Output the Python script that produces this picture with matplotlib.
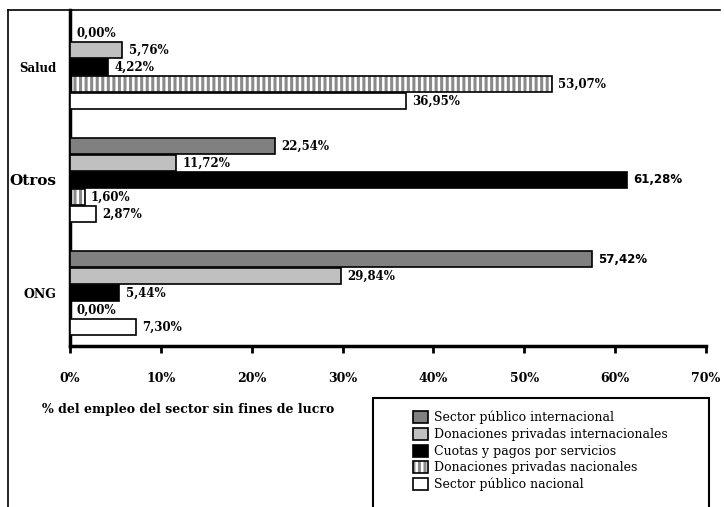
"""
plot.py - fuentes de ingreso por subsector (barras horizontales agrupadas)
"""

import matplotlib
matplotlib.use('Agg')
import matplotlib.pyplot as plt
from matplotlib.patches import Patch, Rectangle
from matplotlib.lines import Line2D
import numpy as np

# categories bottom -> top as drawn on the y axis
categories = ['ONG', 'Otros', 'Salud']
series_names = [
    'Sector público internacional',
    'Donaciones privadas internacionales',
    'Cuotas y pagos por servicios',
    'Donaciones privadas nacionales',
    'Sector público nacional',
]
# values per series, in the order of `categories`
sector_publico_int = [57.42, 22.54, 0.00]
donaciones_priv_int = [29.84, 11.72, 5.76]
cuotas_pagos = [5.44, 61.28, 4.22]
donaciones_priv_nac = [0.00, 1.60, 53.07]
sector_publico_nac = [7.30, 2.87, 36.95]
series_values = [sector_publico_int, donaciones_priv_int, cuotas_pagos,
                 donaciones_priv_nac, sector_publico_nac]
x_ticks = [0, 10, 20, 30, 40, 50, 60, 70]

SERIF = 'DejaVu Serif'
plt.rcParams['font.family'] = SERIF
plt.rcParams['hatch.linewidth'] = 2.2

fills = ['#808080', '#c0c0c0', '#000000', 'white', 'white']
hatches = [None, None, None, '|||', None]
# a couple of labels in the original were set in a sans face
sans_labels = {(0, 0), (2, 1)}  # (series, category)

fig = plt.figure(figsize=(7.24, 5.07), dpi=100)
ax = fig.add_axes([70 / 724, 1 - 346 / 507, 636 / 724, 336 / 507])

step = 0.15
height = 0.14
group_pos = np.arange(len(categories))

for i, (name, vals) in enumerate(zip(series_names, series_values)):
    ypos = group_pos + (2 - i) * step
    if hatches[i]:
        ax.barh(ypos, vals, height=height, color='white', edgecolor='#8a8a8a',
                hatch=hatches[i], linewidth=0, zorder=2)
        ax.barh(ypos, vals, height=height, color='none', edgecolor='black',
                linewidth=1.2, zorder=3)
    else:
        ax.barh(ypos, vals, height=height, color=fills[i], edgecolor='black',
                linewidth=1.2, zorder=3)
    for j, (y, v) in enumerate(zip(ypos, vals)):
        fam = 'DejaVu Sans' if (i, j) in sans_labels else SERIF
        ax.annotate(f'{v:.2f}'.replace('.', ',') + '%', xy=(v, y),
                    xytext=(4.5, 0), textcoords='offset points',
                    ha='left', va='center', fontsize=8.5, fontweight='bold',
                    family=fam)

ax.set_xlim(0, 70)
ax.set_ylim(-0.47, 2.505)
ax.set_xticks(x_ticks)
ax.set_xticklabels([f'{t}%' for t in x_ticks], fontsize=9, fontweight='bold')
ax.tick_params(axis='x', direction='out', length=5, width=2, pad=14)
ax.set_yticks(group_pos)
ax.set_yticklabels(categories, fontweight='bold')
ax.tick_params(axis='y', length=0, pad=10)
for lab, fs in zip(ax.get_yticklabels(), [9, 11, 8.5]):
    lab.set_fontsize(fs)

for side in ['top', 'right']:
    ax.spines[side].set_visible(False)
ax.spines['left'].set_linewidth(2.5)
ax.spines['bottom'].set_linewidth(2.5)

fig.text(42 / 724, 1 - 410 / 507, '% del empleo del sector sin fines de lucro',
         ha='left', va='center', fontsize=9, fontweight='bold')

# outer frame (top and left edges visible in the original)
fig.add_artist(Line2D([8 / 724, 8 / 724], [0, 1 - 10 / 507], color='black',
                      lw=1.2, transform=fig.transFigure))
fig.add_artist(Line2D([8 / 724, 720 / 724], [1 - 10 / 507, 1 - 10 / 507],
                      color='black', lw=1.2, transform=fig.transFigure))

# legend box
fig.add_artist(Rectangle((373 / 724, -0.01), (709 - 373) / 724, (507 - 398) / 507 + 0.01,
                         transform=fig.transFigure, fill=False, edgecolor='black',
                         lw=1.5))
handles = []
for i in range(5):
    if hatches[i]:
        handles.append((Patch(facecolor='white', edgecolor='#8a8a8a', hatch='|||', lw=0),
                        Patch(facecolor='none', edgecolor='black', lw=1.2)))
    else:
        handles.append(Patch(facecolor=fills[i], edgecolor='black', lw=1.2))
fig.legend(handles, series_names, loc='upper left',
           bbox_to_anchor=(413 / 724, 1 - 411 / 507), frameon=False,
           fontsize=9, handlelength=1.2, handleheight=1.1, handletextpad=0.5,
           labelspacing=0.27, borderpad=0, borderaxespad=0)

fig.savefig('out.png', dpi=100)
